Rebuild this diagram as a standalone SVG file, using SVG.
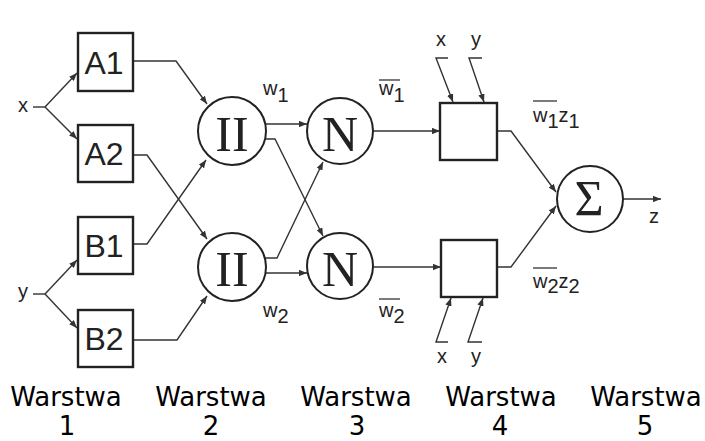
<svg xmlns="http://www.w3.org/2000/svg" width="705" height="441" viewBox="0 0 705 441">
<defs>
<marker id="ah" viewBox="0 0 10 8" refX="10" refY="4" markerWidth="8" markerHeight="6.4" markerUnits="userSpaceOnUse" orient="auto">
<path d="M0,0 L10,4 L0,8 Z" fill="#333"/>
</marker>
<style>
.box{fill:#fff;stroke:#222;stroke-width:2.4}
.circ{fill:#fff;stroke:#222;stroke-width:2}
.ln{fill:none;stroke:#333;stroke-width:1.4}
.arr{fill:none;stroke:#333;stroke-width:1.4;marker-end:url(#ah)}
.lbl{font-family:"Liberation Sans",Arial,sans-serif;font-size:20px;fill:#222}
.big{font-family:"Liberation Sans",Arial,sans-serif;font-size:32px;fill:#222;text-anchor:middle}
.sym{font-family:"Liberation Serif","Times New Roman",serif;font-size:50px;fill:#222;text-anchor:middle}
.cap{font-family:"DejaVu Sans",Verdana,sans-serif;font-size:26px;fill:#000;text-anchor:middle}
.ol{stroke:#333;stroke-width:1.3}
</style>
</defs>
<rect width="705" height="441" fill="#fff"/>

<g id="connectors">
<line class="ln" x1="33" y1="107" x2="45" y2="107"/>
<line class="arr" x1="45" y1="107" x2="77" y2="73"/>
<line class="arr" x1="45" y1="107" x2="77" y2="139"/>
<line class="ln" x1="33" y1="294" x2="45" y2="294"/>
<line class="arr" x1="45" y1="294" x2="77" y2="260"/>
<line class="arr" x1="45" y1="294" x2="77" y2="328"/>
<polyline class="arr" points="133,61 176,61 207,104"/>
<polyline class="arr" points="133,155 147,155 207,239"/>
<polyline class="arr" points="133,244 147,244 206,160"/>
<polyline class="arr" points="133,340 177,340 207,296"/>
<line class="arr" x1="266" y1="124" x2="307" y2="124"/>
<line class="arr" x1="266" y1="273" x2="307" y2="273"/>
<polyline class="arr" points="265,139 275,139 323,236"/>
<polyline class="arr" points="265,258 277,258 323,162"/>
<line class="arr" x1="373" y1="131" x2="440" y2="131"/>
<line class="arr" x1="373" y1="267" x2="441" y2="267"/>
<polyline class="arr" points="448,58 436,58 453,102"/>
<polyline class="arr" points="482,58 469,58 484,102"/>
<polyline class="arr" points="448,342 436,342 451,298"/>
<polyline class="arr" points="482,342 468,342 483,298"/>
<polyline class="arr" points="497,131 511,131 556,192"/>
<polyline class="arr" points="497,267 511,267 556,206"/>
<line class="arr" x1="623" y1="199" x2="661" y2="199"/>
</g>

<g id="A1"><rect class="box" x="78" y="33" width="55" height="58"/><text class="big" x="104" y="74">A1</text></g>
<g id="A2"><rect class="box" x="78" y="125" width="55" height="57"/><text class="big" x="104" y="165">A2</text></g>
<g id="B1"><rect class="box" x="78" y="217" width="55" height="57"/><text class="big" x="104" y="257">B1</text></g>
<g id="B2"><rect class="box" x="78" y="310" width="55" height="57"/><text class="big" x="104" y="350">B2</text></g>

<g id="P1"><circle class="circ" cx="232" cy="131" r="34"/><text class="sym" x="232" y="151">II</text></g>
<g id="P2"><circle class="circ" cx="232" cy="267" r="34"/><text class="sym" x="232" y="286">II</text></g>
<g id="N1"><circle class="circ" cx="340" cy="131" r="33"/><text class="sym" x="340" y="151">N</text></g>
<g id="N2"><circle class="circ" cx="340" cy="266" r="33"/><text class="sym" x="340" y="286">N</text></g>

<g id="R1"><rect class="box" x="440" y="103" width="57" height="57"/></g>
<g id="R2"><rect class="box" x="441" y="240" width="56" height="57"/></g>

<g id="S"><circle class="circ" cx="590" cy="199" r="33"/><text class="sym" x="589" y="215">Σ</text></g>

<g id="labels">
<text class="lbl" x="23" y="112" text-anchor="middle">x</text>
<text class="lbl" x="23" y="298" text-anchor="middle">y</text>
<text class="lbl" x="441" y="46" text-anchor="middle">x</text>
<text class="lbl" x="476" y="46" text-anchor="middle">y</text>
<text class="lbl" x="442" y="363" text-anchor="middle">x</text>
<text class="lbl" x="476" y="363" text-anchor="middle">y</text>
<text class="lbl" x="654" y="223" text-anchor="middle">z</text>
<text class="lbl" x="263" y="95">w<tspan dy="7">1</tspan></text>
<text class="lbl" x="263" y="317">w<tspan dy="6">2</tspan></text>
<text class="lbl" x="379" y="95">w<tspan dy="7">1</tspan></text>
<line class="ol" x1="379" y1="80" x2="400" y2="80"/>
<text class="lbl" x="379" y="317">w<tspan dy="6">2</tspan></text>
<line class="ol" x1="379" y1="299" x2="400" y2="299"/>
<text class="lbl" x="533" y="122">w<tspan dy="6">1</tspan><tspan dy="-6">z</tspan><tspan dy="6">1</tspan></text>
<line class="ol" x1="533" y1="101" x2="557" y2="101"/>
<text class="lbl" x="533" y="288">w<tspan dy="5">2</tspan><tspan dy="-5">z</tspan><tspan dy="5">2</tspan></text>
<line class="ol" x1="533" y1="268" x2="557" y2="268"/>
</g>

<g id="layers">
<text class="cap" x="66" y="406">Warstwa</text>
<text class="cap" x="211" y="406">Warstwa</text>
<text class="cap" x="356" y="406">Warstwa</text>
<text class="cap" x="501" y="406">Warstwa</text>
<text class="cap" x="646" y="406">Warstwa</text>
<text class="cap" x="67" y="435">1</text>
<text class="cap" x="211" y="435">2</text>
<text class="cap" x="357" y="435">3</text>
<text class="cap" x="500" y="435">4</text>
<text class="cap" x="645" y="435">5</text>
</g>
</svg>
